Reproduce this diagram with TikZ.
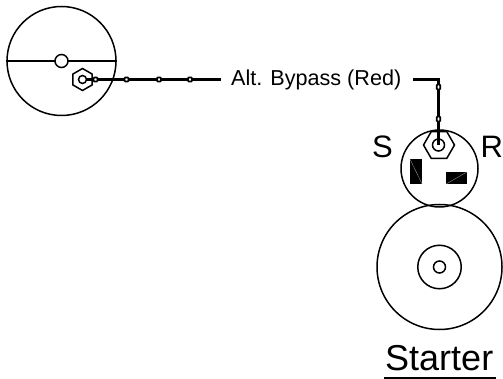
\documentclass[tikz,border=0pt]{standalone}
\usepackage{fontspec}
\setmainfont{Liberation Sans}
\usetikzlibrary{shapes.geometric}
\tikzset{
  x=1pt,y=-1pt,
  ring/.style={circle,draw=black,line width=1.5pt,inner sep=0pt,fill=white},
  outline/.style={circle,draw=black,line width=1.5pt,inner sep=0pt},
  nut/.style={regular polygon,regular polygon sides=6,draw=black,line width=1.5pt,inner sep=0pt,fill=white},
  wire/.style={draw=black,line width=2.3pt},
  crimp/.style={rectangle,rounded corners=0.8pt,draw=black,line width=1.8pt,fill=white,inner sep=0pt,minimum width=4pt,minimum height=4pt},
  blade/.style={rectangle,fill=black,draw=none,inner sep=0pt},
  lbl/.style={inner sep=0pt,anchor=base west}
}
\begin{document}
\begin{tikzpicture}
\useasboundingbox (0,0) rectangle (503,379);
% alternator
\node[outline,minimum size=109pt] (alt) at (61.5,61) {};
\draw[line width=1.5pt] (alt.west) -- (alt.east);
\node[ring,minimum size=13pt] (hub) at (61.5,61) {};
\node[nut,rotate=90,minimum size=22pt] (altnut) at (82.5,79.5) {};
\node[ring,minimum size=8pt] (altpost) at (82.5,79.5) {};
% left wire
\node[lbl,font=\fontsize{21.6pt}{24pt}\selectfont] (bypass) at (231,86) {Alt. Bypass (Red)};
\coordinate (wa) at (221,79.5);
\coordinate (wb) at (413,79.5);
\coordinate (wc) at (438.5,79.5);
\draw[wire] (altpost) -- (wa);
\node[crimp] (c1) at (95.5,79.5) {};
\node[crimp] (c2) at (126.5,79.5) {};
\node[crimp] (c3) at (159,79.5) {};
\node[crimp] (c4) at (190,79.5) {};
% solenoid
\node[outline,minimum size=77pt] (sol) at (439.5,168.5) {};
\node[nut,minimum size=31pt] (solnut) at (439,145) {};
\node[outline,minimum size=12pt] (solpost) at (438.5,145) {};
\draw[wire] (wb) -- (wc) -- (solpost.center);
\node[crimp,minimum width=3.5pt,minimum height=5pt] (c5) at (438.5,87) {};
\node[crimp,minimum width=3.5pt,minimum height=5pt] (c6) at (438.5,119) {};
\node[blade,minimum width=12pt,minimum height=25pt] (b1) at (416,171.5) {};
\node[blade,minimum width=21pt,minimum height=12pt] (b2) at (456.5,178) {};
\draw[gray!70,line width=0.3pt] (b1.north west) -- (b1.south east);
\draw[gray!70,line width=0.3pt] (b2.south west) -- (b2.north east);
\node[lbl,font=\fontsize{31pt}{36pt}\selectfont] (s) at (372,158) {S};
\node[lbl,font=\fontsize{31pt}{36pt}\selectfont] (r) at (480.5,158) {R};
% starter
\node[outline,minimum size=125pt] (st) at (439.5,267) {};
\node[outline,minimum size=43.5pt] (stm) at (439.5,267) {};
\node[outline,minimum size=12pt] (sti) at (439.5,267) {};
\node[lbl,font=\fontsize{36pt}{40pt}\selectfont] (title) at (385,370) {Starter};
\coordinate (ua) at (384,377.8);
\coordinate (ub) at (496,377.8);
\draw[line width=1.8pt] (ua) -- (ub);
\end{tikzpicture}
\end{document}
